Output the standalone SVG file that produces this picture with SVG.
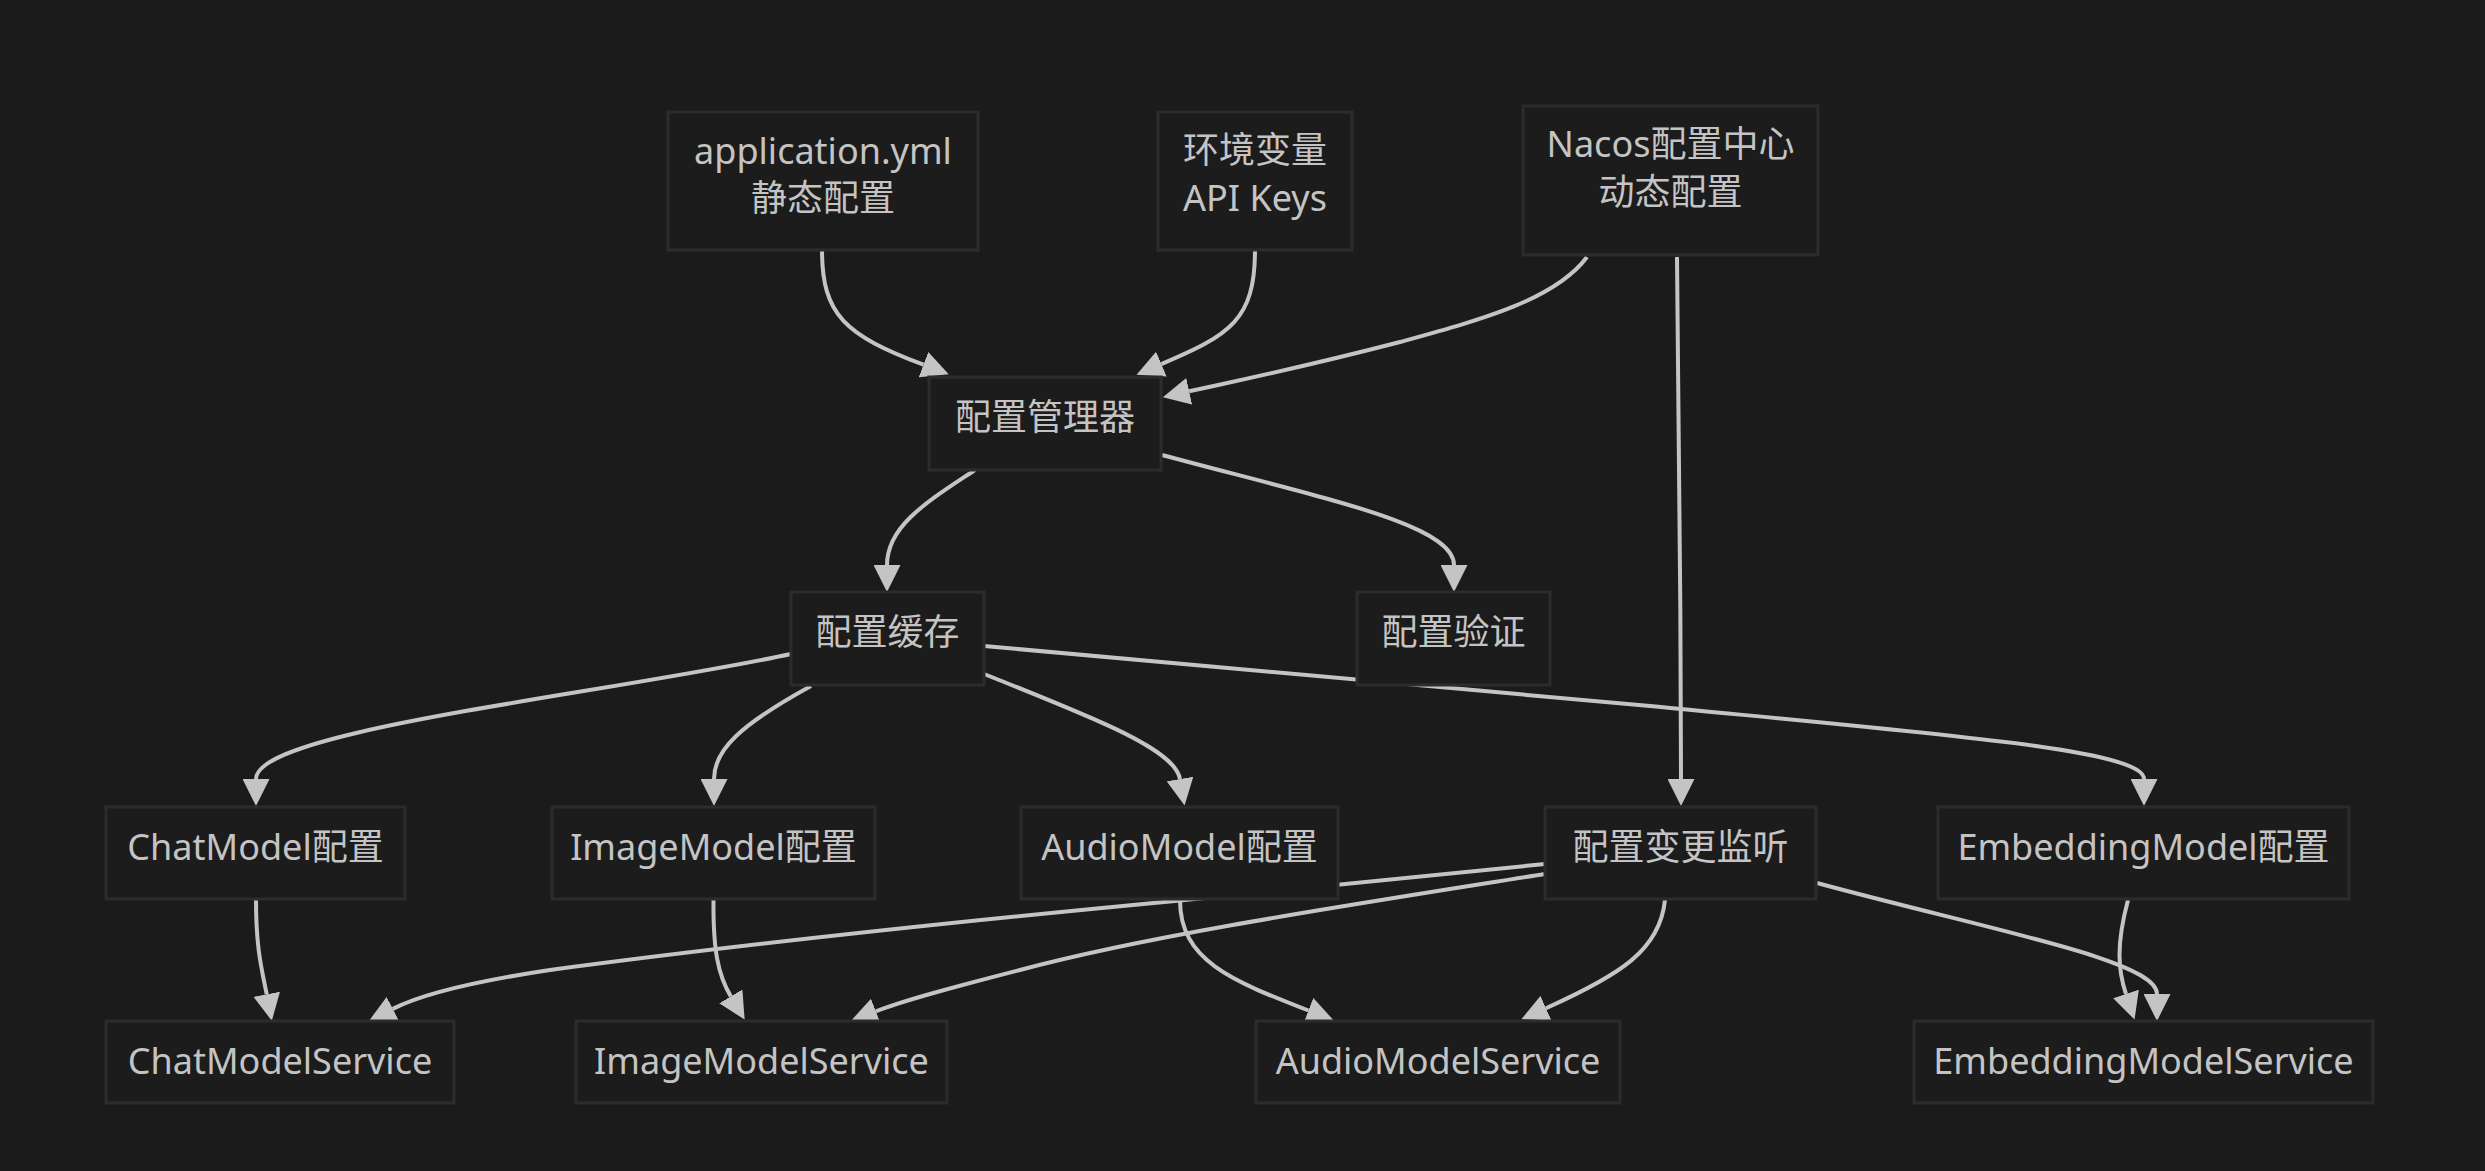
<svg xmlns="http://www.w3.org/2000/svg" width="2485" height="1171" viewBox="0 0 2485 1171">
<defs>
<style>
.bg{fill:#1b1b1b}
.node rect{fill:#1c1c1c;stroke:#2c2c2c;stroke-width:3}
.node text{fill:#c4c4c4;font-family:"Noto Sans","Noto Sans CJK SC",sans-serif;font-size:36px;text-anchor:middle}
.edges path{fill:none;stroke:#c4c4c4;stroke-width:4;marker-end:url(#arr)}
</style>
<marker id="arr" viewBox="0 0 10 10" refX="0" refY="5" markerWidth="27" markerHeight="27" markerUnits="userSpaceOnUse" orient="auto">
<path d="M0,0 L10,5 L0,10 z" fill="#c4c4c4"/>
</marker>
</defs>
<rect class="bg" x="0" y="0" width="2485" height="1171"/>
<g id="connectors" class="edges">
<path d="M822,250 C822,315 845,335 923.5,364.7"/>
<path d="M1255,250 C1255,320 1230,335 1161.4,364.1"/>
<path d="M1587,257 C1555,300 1480,320 1400,342 C1300,368 1240,380 1189.2,391.3"/>
<path d="M1677,257 C1679,500 1681,600 1681,779"/>
<path d="M975,470 C930,500 887,525 887,565"/>
<path d="M1162,455 C1330,500 1454,525 1454,565"/>
<path d="M791,654 C600,695 256,730 256,779"/>
<path d="M811,686 C740,725 714,750 714,779"/>
<path d="M984,674 C1100,720 1175,750 1180,779"/>
<path d="M984,646 L1650,706 C1950,735 2144,750 2144,779"/>
<path d="M256,900 C256,950 262,970 266.7,994.3"/>
<path d="M713.5,900 C713,950 718,975 730.8,996.4"/>
<path d="M1180,900 C1180,960 1230,980 1308.4,1010.5"/>
<path d="M1545,864 L1175,901 C900,927 700,950 550,970 C470,982 420,995 392.8,1008.9"/>
<path d="M1545,874 C1350,905 1150,935 1020,970 C950,988 905,1000 875.9,1011.3"/>
<path d="M1665,900 C1660,950 1620,975 1546,1008.2"/>
<path d="M1817,883 C1990,930 2157,960 2157,994"/>
<path d="M2128,900 C2116,945 2118,970 2126,994"/>
</g>
<g id="n_app" class="node"><rect x="668" y="112" width="310" height="138"/><text x="823" y="164">application.yml</text><text x="823" y="211">静态配置</text></g>
<g id="n_env" class="node"><rect x="1158" y="112" width="194" height="138"/><text x="1255" y="163">环境变量</text><text x="1255" y="211">API Keys</text></g>
<g id="n_nacos" class="node"><rect x="1523" y="106" width="295" height="149"/><text x="1670.5" y="157">Nacos配置中心</text><text x="1670.5" y="205">动态配置</text></g>
<g id="n_mgr" class="node"><rect x="929" y="377" width="232" height="93"/><text x="1045" y="430">配置管理器</text></g>
<g id="n_cache" class="node"><rect x="791" y="592" width="193" height="93"/><text x="887.5" y="645">配置缓存</text></g>
<g id="n_valid" class="node"><rect x="1357" y="592" width="193" height="93"/><text x="1453.5" y="645">配置验证</text></g>
<g id="n_chatcfg" class="node"><rect x="106" y="807" width="299" height="92"/><text x="255.5" y="860">ChatModel配置</text></g>
<g id="n_imgcfg" class="node"><rect x="552" y="807" width="323" height="92"/><text x="713.5" y="860">ImageModel配置</text></g>
<g id="n_audcfg" class="node"><rect x="1021" y="807" width="317" height="92"/><text x="1179.5" y="860">AudioModel配置</text></g>
<g id="n_listen" class="node"><rect x="1545" y="807" width="271" height="92"/><text x="1680.5" y="860">配置变更监听</text></g>
<g id="n_embcfg" class="node"><rect x="1938" y="807" width="411" height="92"/><text x="2143.5" y="860">EmbeddingModel配置</text></g>
<g id="n_chatsvc" class="node"><rect x="106" y="1021" width="348" height="82"/><text x="280" y="1074">ChatModelService</text></g>
<g id="n_imgsvc" class="node"><rect x="576" y="1021" width="371" height="82"/><text x="761.5" y="1074">ImageModelService</text></g>
<g id="n_audsvc" class="node"><rect x="1256" y="1021" width="364" height="82"/><text x="1438" y="1074">AudioModelService</text></g>
<g id="n_embsvc" class="node"><rect x="1914" y="1021" width="459" height="82"/><text x="2143.5" y="1074">EmbeddingModelService</text></g>
</svg>
